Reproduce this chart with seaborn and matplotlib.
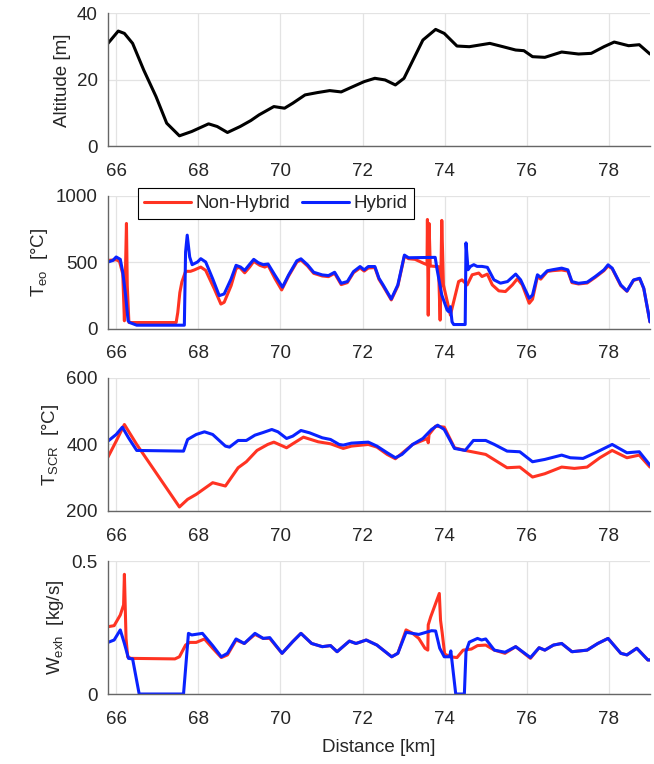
import numpy as np
import pandas as pd
import matplotlib
matplotlib.use('Agg')
import matplotlib.pyplot as plt
import seaborn as sns

# Altitude
alt_km = [65.8, 66.05, 66.2, 66.4, 66.67, 66.97, 67.23, 67.54, 67.84, 68.25,
          68.46, 68.71, 69.02, 69.28, 69.48, 69.84, 70.1, 70.3, 70.6, 70.9,
          71.2, 71.48, 71.73, 72.04, 72.3, 72.55, 72.8, 73.01, 73.27, 73.47,
          73.78, 73.99, 74.3, 74.6, 75.0, 75.1, 75.42, 75.73, 75.93, 76.14,
          76.44, 76.85, 77.26, 77.57, 77.88, 78.13, 78.48, 78.74, 79.0]
alt_m = [31, 34.7, 34, 31, 23, 15, 7, 3.2, 4.5, 6.8,
         6, 4.2, 6, 7.8, 9.5, 12, 11.5, 13, 15.5, 16.2,
         16.8, 16.4, 17.8, 19.5, 20.5, 20, 18.5, 20.5, 27, 32,
         35.2, 34, 30.2, 30, 30.8, 31, 30, 29, 28.8, 27,
         26.8, 28.4, 27.8, 28, 30, 31.4, 30.3, 30.6, 27.8]

# T_eo Non-Hybrid
teo_nh_km = [65.8, 66.0, 66.08, 66.16, 66.2, 66.25, 66.27, 66.31, 67.46, 67.5,
             67.55, 67.6, 67.69, 67.81, 67.9, 68.06, 68.18, 68.39, 68.55, 68.63,
             68.8, 68.92, 69.0, 69.13, 69.25, 69.35, 69.5, 69.62, 69.7, 69.87,
             70.03, 70.2, 70.4, 70.5, 70.66, 70.81, 71.02, 71.17, 71.32, 71.48,
             71.63, 71.78, 71.94, 72.04, 72.14, 72.3, 72.4, 72.5, 72.7, 72.86,
             73.02, 73.12, 73.28, 73.49, 73.57, 73.58, 73.6, 73.62, 73.65, 73.85,
             73.89, 73.93, 73.97, 74.14, 74.34, 74.42, 74.55, 74.67, 74.83, 74.91,
             75.04, 75.16, 75.32, 75.48, 75.65, 75.77, 75.89, 76.06, 76.14, 76.26,
             76.34, 76.5, 76.63, 76.85, 77.0, 77.1, 77.26, 77.47, 77.67, 77.88,
             77.98, 78.08, 78.29, 78.44, 78.6, 78.75, 78.85, 79.0]
teo_nh = [512, 517, 505, 411, 58, 790, 323, 45, 45, 120,
          270, 350, 430, 430, 440, 462, 437, 298, 184, 197,
          323, 450, 462, 419, 462, 505, 475, 462, 475, 374,
          290, 395, 500, 515, 470, 415, 395, 390, 415, 330,
          345, 420, 455, 432, 455, 458, 370, 320, 215, 320,
          545, 525, 520, 490, 480, 820, 100, 790, 470, 465,
          63, 813, 328, 101, 353, 366, 328, 404, 417, 391,
          409, 328, 283, 278, 328, 374, 328, 190, 220, 391,
          371, 429, 435, 440, 432, 345, 335, 342, 385, 435,
          470, 450, 322, 280, 362, 375, 300, 50]

# T_eo Hybrid
teo_h_km = [65.8, 65.92, 66.0, 66.1, 66.16, 66.23, 66.29, 66.33, 66.5, 67.66,
            67.69, 67.73, 67.79, 67.85, 67.98, 68.06, 68.18, 68.35, 68.51, 68.63,
            68.8, 68.92, 69.03, 69.13, 69.23, 69.35, 69.46, 69.58, 69.7, 69.87,
            70.05, 70.2, 70.4, 70.5, 70.66, 70.81, 71.02, 71.17, 71.32, 71.48,
            71.63, 71.78, 71.94, 72.04, 72.14, 72.3, 72.4, 72.5, 72.7, 72.86,
            73.02, 73.12, 73.77, 73.81, 73.93, 74.06, 74.1, 74.14, 74.18, 74.22,
            74.5, 74.52, 74.57, 74.63, 74.71, 74.79, 74.91, 75.04, 75.2, 75.36,
            75.53, 75.73, 75.85, 76.06, 76.14, 76.26, 76.34, 76.5, 76.63, 76.85,
            77.0, 77.1, 77.26, 77.47, 77.67, 77.88, 77.98, 78.08, 78.29, 78.44,
            78.6, 78.75, 78.85, 79.0]
teo_h = [500, 512, 538, 520, 424, 247, 58, 45, 25, 25,
         575, 702, 538, 480, 500, 525, 500, 374, 247, 260,
         374, 475, 462, 437, 475, 520, 495, 480, 485, 399,
         311, 403, 509, 524, 479, 423, 403, 398, 423, 340,
         353, 428, 466, 441, 466, 466, 378, 328, 222, 328,
         552, 532, 535, 454, 252, 139, 126, 164, 50, 30,
         30, 644, 442, 467, 480, 467, 467, 460, 366, 341,
         353, 409, 366, 227, 252, 404, 384, 434, 442, 454,
         441, 353, 340, 348, 391, 441, 479, 454, 328, 282,
         365, 378, 302, 50]

# T_SCR
tscr_nh_km = [65.8, 66.0, 66.2, 66.3, 66.5, 67.54, 67.74, 67.95, 68.35, 68.66,
              68.97, 69.17, 69.43, 69.69, 69.84, 70.15, 70.3, 70.56, 70.92, 71.22,
              71.53, 71.73, 72.14, 72.35, 72.6, 72.8, 73.22, 73.58, 73.6, 73.62,
              73.78, 73.99, 74.24, 74.5, 75.0, 75.26, 75.52, 75.83, 76.14, 76.44,
              76.85, 77.16, 77.47, 77.78, 78.08, 78.44, 78.74, 79.0]
tscr_nh = [362, 410, 460, 440, 400, 212, 235, 250, 285, 275,
           330, 348, 382, 400, 407, 390, 402, 422, 408, 402,
           388, 395, 400, 392, 370, 357, 400, 418, 405, 430,
           455, 452, 390, 382, 370, 350, 330, 332, 302, 312,
           332, 328, 332, 360, 382, 360, 368, 332]

tscr_h_km = [65.8, 66.0, 66.15, 66.3, 66.5, 67.64, 67.74, 67.95, 68.15, 68.35,
             68.66, 68.76, 68.97, 69.17, 69.38, 69.58, 69.79, 69.94, 70.15, 70.3,
             70.5, 70.71, 71.02, 71.22, 71.43, 71.53, 71.73, 72.14, 72.35, 72.6,
             72.8, 72.96, 73.22, 73.47, 73.68, 73.83, 73.99, 74.24, 74.5, 74.7,
             75.0, 75.21, 75.52, 75.83, 76.14, 76.44, 76.85, 77.06, 77.37, 77.67,
             78.08, 78.44, 78.74, 79.0]
tscr_h = [410, 430, 452, 420, 382, 380, 415, 430, 438, 430,
          395, 392, 412, 412, 428, 436, 445, 438, 418, 425,
          442, 435, 420, 415, 400, 398, 404, 407, 395, 375,
          360, 370, 400, 418, 445, 458, 445, 388, 382, 412,
          412, 400, 380, 378, 348, 355, 368, 360, 358, 375,
          400, 375, 378, 338]

# W_exh
wexh_nh_km = [65.8, 65.95, 66.1, 66.18, 66.2, 66.24, 66.28, 66.36, 67.43, 67.54,
              67.69, 67.79, 67.95, 68.15, 68.35, 68.56, 68.71, 68.92, 69.12, 69.38,
              69.58, 69.74, 70.04, 70.3, 70.5, 70.76, 71.02, 71.22, 71.38, 71.68,
              71.84, 72.09, 72.35, 72.71, 72.86, 73.06, 73.22, 73.37, 73.52, 73.59,
              73.6, 73.66, 73.87, 73.9, 73.94, 74.0, 74.14, 74.3, 74.45, 74.65,
              74.8, 75.0, 75.21, 75.47, 75.73, 76.09, 76.3, 76.44, 76.65, 76.85,
              77.1, 77.47, 77.73, 77.98, 78.29, 78.44, 78.68, 78.95, 79.0]
wexh_nh = [0.253, 0.257, 0.297, 0.335, 0.45, 0.209, 0.14, 0.134, 0.132, 0.14,
           0.184, 0.194, 0.194, 0.207, 0.172, 0.137, 0.147, 0.203, 0.19, 0.224,
           0.209, 0.209, 0.153, 0.197, 0.228, 0.19, 0.178, 0.182, 0.159, 0.199,
           0.19, 0.203, 0.184, 0.14, 0.153, 0.241, 0.228, 0.209, 0.172, 0.165,
           0.26, 0.29, 0.378, 0.277, 0.23, 0.15, 0.14, 0.137, 0.165, 0.169,
           0.182, 0.184, 0.165, 0.153, 0.178, 0.134, 0.174, 0.165, 0.184, 0.19,
           0.159, 0.165, 0.19, 0.209, 0.153, 0.147, 0.172, 0.128, 0.128]

wexh_h_km = [65.8, 65.95, 66.1, 66.2, 66.3, 66.4, 66.56, 67.64, 67.76, 67.84,
             68.1, 68.35, 68.56, 68.71, 68.92, 69.12, 69.38, 69.58, 69.74, 70.04,
             70.3, 70.5, 70.76, 71.02, 71.22, 71.38, 71.68, 71.84, 72.09, 72.35,
             72.71, 72.86, 73.06, 73.37, 73.68, 73.78, 73.88, 73.99, 74.12, 74.15,
             74.27, 74.48, 74.52, 74.6, 74.8, 74.9, 75.0, 75.21, 75.47, 75.73,
             76.09, 76.3, 76.44, 76.65, 76.85, 77.1, 77.47, 77.73, 77.98, 78.29,
             78.44, 78.68, 78.95, 79.0]
wexh_h = [0.194, 0.203, 0.241, 0.19, 0.134, 0.132, 0.0, 0.0, 0.228, 0.222,
          0.228, 0.182, 0.14, 0.153, 0.207, 0.19, 0.228, 0.209, 0.212, 0.153,
          0.197, 0.228, 0.19, 0.178, 0.182, 0.159, 0.199, 0.19, 0.203, 0.184,
          0.14, 0.153, 0.232, 0.224, 0.238, 0.237, 0.172, 0.14, 0.14, 0.162,
          0.0, 0.0, 0.16, 0.195, 0.209, 0.203, 0.207, 0.165, 0.157, 0.178,
          0.137, 0.174, 0.165, 0.184, 0.19, 0.159, 0.165, 0.19, 0.209, 0.153,
          0.147, 0.172, 0.128, 0.128]

RED = '#FF3322'
BLUE = '#0A22FF'

sns.set_style('white')
plt.rcParams['font.family'] = ['Liberation Sans', 'DejaVu Sans']
plt.rcParams['mathtext.default'] = 'regular'

fig = plt.figure(figsize=(6.54, 7.64), dpi=100)

left, width, height = 0.1651, 0.8287, 0.1741
bottoms = [0.8083, 0.570, 0.3312, 0.0916]
axes = [fig.add_axes([left, b, width, height]) for b in bottoms]

def style(ax, ylim, yticks, ylabel):
    ax.set_xlim(65.8, 79.0)
    ax.set_ylim(*ylim)
    ax.set_xticks([66, 68, 70, 72, 74, 76, 78])
    ax.set_yticks(yticks)
    ax.grid(True, color='#e3e3e3', linewidth=0.9)
    ax.set_axisbelow(True)
    for s in ['top', 'right']:
        ax.spines[s].set_visible(False)
    for s in ['left', 'bottom']:
        ax.spines[s].set_color('#666666')
        ax.spines[s].set_linewidth(1.0)
    ax.tick_params(direction='in', length=4, width=0.9, color='#444444',
                   labelsize=13.5, labelcolor='#262626')
    ax.tick_params(axis='x', pad=12)
    ax.tick_params(axis='y', pad=7.5)
    ax.set_ylabel(ylabel, fontsize=13.5, color='#262626')
    ax.set_xlabel('')

# Altitude
sns.lineplot(x=alt_km, y=alt_m, ax=axes[0], color='black', linewidth=2.2,
             estimator=None, sort=False)
style(axes[0], (0, 40), [0, 20, 40], 'Altitude [m]')

# T_eo
sns.lineplot(x=teo_nh_km, y=teo_nh, ax=axes[1], color=RED, linewidth=2.2,
             estimator=None, sort=False, label='Non-Hybrid')
sns.lineplot(x=teo_h_km, y=teo_h, ax=axes[1], color=BLUE, linewidth=2.2,
             estimator=None, sort=False, label='Hybrid')
style(axes[1], (0, 1000), [0, 500, 1000], 'T$_{eo}$  [°C]')
leg = axes[1].legend(loc='upper left', bbox_to_anchor=(0.055, 1.053), ncol=2,
                     frameon=True, fancybox=False, edgecolor='black',
                     framealpha=1, borderaxespad=0, fontsize=13.5,
                     handlelength=2.5, handletextpad=0.25, columnspacing=0.6,
                     borderpad=0.35)
leg.get_frame().set_linewidth(0.8)

# T_SCR
sns.lineplot(x=tscr_nh_km, y=tscr_nh, ax=axes[2], color=RED, linewidth=2.2,
             estimator=None, sort=False)
sns.lineplot(x=tscr_h_km, y=tscr_h, ax=axes[2], color=BLUE, linewidth=2.2,
             estimator=None, sort=False)
style(axes[2], (200, 600), [200, 400, 600], 'T$_{SCR}$  [°C]')

# W_exh
sns.lineplot(x=wexh_nh_km, y=wexh_nh, ax=axes[3], color=RED, linewidth=2.2,
             estimator=None, sort=False)
sns.lineplot(x=wexh_h_km, y=wexh_h, ax=axes[3], color=BLUE, linewidth=2.2,
             estimator=None, sort=False)
style(axes[3], (0, 0.5), [0, 0.5], 'W$_{exh}$  [kg/s]')
axes[3].set_yticklabels(['0', '0.5'])
axes[3].set_xlabel('Distance [km]', fontsize=13.5, color='#262626', labelpad=8)

fig.savefig('out.png', dpi=100)
